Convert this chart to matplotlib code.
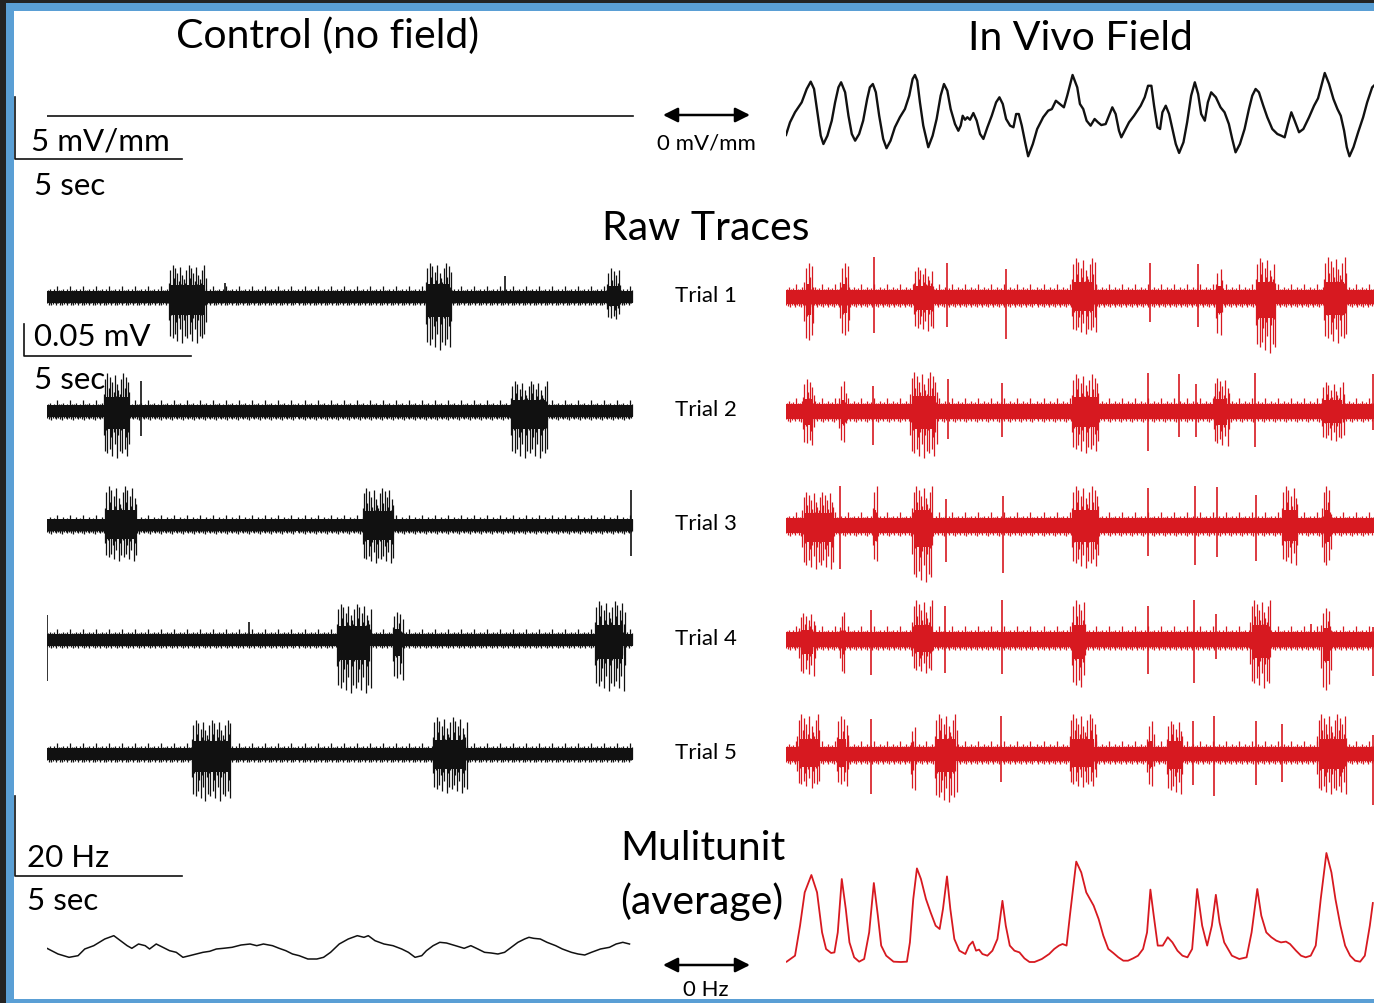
import numpy as np
import matplotlib
matplotlib.use("Agg")
import matplotlib.pyplot as plt

plt.rcParams['font.family'] = ['Lato', 'DejaVu Sans']

W, H = 1374, 1004
BLACK = '#111111'
RED = '#d71920'
BLUE = '#5a9fd5'
DARK = '#232323'

# ---- in vivo field (mV/mm) vs time (s) ----
FIELD_T = [0.00, 0.12, 0.27, 0.47, 0.62, 0.74, 0.84, 0.94, 1.04, 1.12, 1.24, 1.37, 1.47, 1.57,
           1.65, 1.77, 1.87, 1.97, 2.07, 2.19, 2.31, 2.43, 2.51, 2.60, 2.69, 2.79, 2.91, 3.01,
           3.13, 3.26, 3.41, 3.56, 3.69, 3.79, 3.86, 3.93, 4.01, 4.11, 4.26, 4.39, 4.51, 4.63,
           4.73, 4.83, 4.93, 5.06, 5.16, 5.23, 5.29, 5.36, 5.43, 5.51, 5.61, 5.71, 5.81, 5.91,
           6.03, 6.16, 6.29, 6.39, 6.49, 6.59, 6.71, 6.81, 6.89, 6.97, 7.06, 7.16, 7.25, 7.39,
           7.52, 7.70, 7.85, 7.96, 8.08, 8.20, 8.32, 8.42, 8.58, 8.72, 8.80, 8.90, 9.00, 9.12,
           9.24, 9.34, 9.44, 9.57, 9.67, 9.77, 9.87, 9.97, 10.04, 10.14, 10.27, 10.42, 10.62,
           10.74, 10.84, 10.94, 11.02, 11.12, 11.20, 11.27, 11.37, 11.47, 11.57, 11.67, 11.77,
           11.90, 12.01, 12.13, 12.24, 12.34, 12.43, 12.54, 12.63, 12.73, 12.87, 13.01, 13.13,
           13.26, 13.36, 13.46, 13.59, 13.73, 13.86, 13.96, 14.06, 14.16, 14.29, 14.41, 14.56,
           14.71, 14.83, 14.93, 15.03, 15.13, 15.23, 15.36, 15.49, 15.66, 15.81, 15.93, 16.03,
           16.13, 16.26, 16.39, 16.51, 16.61, 16.71, 16.79, 16.87, 16.99, 17.13, 17.28, 17.40,
           17.55, 17.60]
FIELD_V = [-1.53, -0.51, 0.30, 1.10, 2.18, 2.77, 2.18, 0.30, -1.59, -2.26, -1.59, -0.38, 1.10, 2.31,
           2.72, 1.91, 0.02, -1.45, -1.99, -1.45, -0.38, 1.37, 2.31, 2.58, 1.91, 0.02, -1.85, -2.60,
           -1.99, -0.91, -0.10, 0.56, 1.64, 2.98, 3.31, 2.85, 1.10, -0.78, -2.52, -1.59, -0.24, 1.64,
           2.58, 2.04, 0.56, -0.65, -1.19, -0.78, 0.02, -0.30, -0.10, -0.30, 0.24, -0.38, -1.45, -1.85,
           -0.91, 0.02, 1.10, 1.51, 0.97, -0.24, -0.78, -0.91, 0.16, 0.16, -0.78, -2.12, -3.25, -2.26,
           -1.05, -0.10, 0.43, 0.56, 1.23, 0.97, 0.70, 1.64, 3.31, 2.31, 0.97, 0.56, -0.38, -0.78,
           -0.24, -0.51, -0.73, -0.65, 0.02, 0.70, 0.16, -1.19, -1.72, -1.19, -0.51, 0.02, 0.83,
           1.51, 2.44, 2.44, 0.83, -0.91, -1.05, 0.30, 0.83, 0.16, -1.05, -2.26, -2.98,
           -2.12, -0.51, 1.64, 2.72, 1.77, 0.16, -0.38, 1.10, 1.91, 1.51, 0.70, 0.30,
           -0.65, -1.85, -2.93, -2.26, -1.05, 0.56, 1.64, 2.18, 1.91, 0.83, -0.10, -1.05,
           -1.45, -1.59, -1.72, -0.65, 0.30, -0.38, -1.31, -1.05, -0.10, 0.83, 1.43, 2.44,
           3.47, 2.58, 1.37, 0.56, 0.02, -1.19, -2.52, -3.25, -2.52, -1.31, -0.10, 1.10,
           2.31, 2.44]
CONTROL_FIELD_T = [0.0, 17.55]
CONTROL_FIELD_V = [0.0, 0.0]

# ---- raw traces: (start s, end s, peak up mV, peak down mV) per burst/spike ----
CONTROL_EVENTS = [
    [(3.65, 4.75, 0.050, 0.072), (5.33, 5.33, 0.022, 0.008), (11.35, 12.10, 0.053, 0.083),
     (13.70, 13.70, 0.033, 0.010), (16.77, 17.17, 0.045, 0.037)],
    [(1.70, 2.47, 0.060, 0.073), (2.80, 2.80, 0.048, 0.039), (13.90, 14.97, 0.047, 0.073)],
    [(1.74, 2.67, 0.062, 0.055), (9.45, 10.36, 0.059, 0.059), (17.48, 17.48, 0.055, 0.047)],
    [(0.00, 0.00, 0.038, 0.064), (6.04, 6.04, 0.028, 0.010), (8.68, 9.69, 0.056, 0.083),
     (10.36, 10.65, 0.044, 0.066), (16.40, 17.30, 0.061, 0.080)],
    [(4.34, 5.48, 0.053, 0.073), (11.56, 12.56, 0.058, 0.061)],
]
FIELD_EVENTS = [
    [(0.55, 0.81, 0.053, 0.075), (1.62, 1.89, 0.053, 0.066), (2.62, 2.62, 0.062, 0.056),
     (3.82, 4.41, 0.047, 0.053), (4.82, 4.82, 0.053, 0.047), (6.60, 6.60, 0.044, 0.066),
     (8.56, 9.28, 0.061, 0.058), (10.90, 10.90, 0.053, 0.039), (12.33, 12.33, 0.052, 0.047),
     (12.86, 13.06, 0.044, 0.066), (14.06, 14.65, 0.061, 0.087), (16.11, 16.77, 0.062, 0.072)],
    [(0.51, 0.83, 0.050, 0.056), (1.60, 1.80, 0.047, 0.053), (2.59, 2.59, 0.040, 0.052),
     (3.72, 4.51, 0.061, 0.073), (4.84, 4.84, 0.050, 0.044), (6.48, 6.48, 0.044, 0.041),
     (8.56, 9.35, 0.058, 0.066), (10.85, 10.85, 0.060, 0.062), (11.78, 11.78, 0.058, 0.041),
     (12.27, 12.27, 0.043, 0.041), (12.80, 13.26, 0.052, 0.055), (14.05, 14.05, 0.060, 0.056),
     (16.05, 16.70, 0.045, 0.047), (17.56, 17.56, 0.058, 0.030)],
    [(0.49, 1.42, 0.053, 0.068), (1.62, 1.62, 0.062, 0.068), (2.60, 2.73, 0.062, 0.062),
     (3.78, 4.38, 0.062, 0.089), (4.80, 4.80, 0.042, 0.057), (6.50, 6.50, 0.046, 0.075),
     (8.56, 9.35, 0.062, 0.066), (10.85, 10.85, 0.059, 0.048), (12.24, 12.24, 0.062, 0.062),
     (12.89, 12.89, 0.060, 0.050), (14.08, 14.08, 0.048, 0.056), (14.85, 15.31, 0.062, 0.062),
     (16.05, 16.31, 0.062, 0.068)],
    [(0.40, 0.87, 0.042, 0.057), (1.62, 1.75, 0.043, 0.057), (2.55, 2.55, 0.047, 0.055),
     (3.78, 4.38, 0.062, 0.052), (4.75, 4.75, 0.053, 0.052), (6.48, 6.48, 0.062, 0.054),
     (8.56, 8.96, 0.062, 0.078), (10.85, 10.85, 0.053, 0.054), (12.23, 12.23, 0.062, 0.068),
     (12.86, 12.86, 0.040, 0.030), (13.90, 14.50, 0.062, 0.075), (15.72, 15.72, 0.025, 0.010),
     (16.03, 16.31, 0.050, 0.087), (17.56, 17.56, 0.020, 0.057)],
    [(0.34, 1.00, 0.062, 0.053), (1.53, 1.86, 0.060, 0.052), (2.55, 2.55, 0.055, 0.062),
     (3.74, 3.85, 0.042, 0.062), (4.45, 5.11, 0.062, 0.075), (6.44, 6.44, 0.060, 0.044),
     (8.49, 9.28, 0.062, 0.052), (10.81, 11.01, 0.052, 0.055), (11.41, 11.87, 0.052, 0.062),
     (12.20, 12.20, 0.052, 0.048), (12.80, 12.80, 0.060, 0.065), (14.06, 14.06, 0.052, 0.048),
     (14.85, 14.85, 0.047, 0.044), (15.91, 16.77, 0.062, 0.062), (17.56, 17.56, 0.030, 0.080)],
]
TRIAL_LABELS = ['Trial 1', 'Trial 2', 'Trial 3', 'Trial 4', 'Trial 5']
TRIAL_GAP = 0.1785  # mV between stacked trials

# ---- multiunit average rate (Hz) vs time (s) ----
CONTROL_MU_T = [0.00, 0.33, 0.66, 0.93, 1.13, 1.40, 1.73, 2.00, 2.20, 2.40, 2.54, 2.74, 2.94, 3.07,
                3.27, 3.47, 3.67, 3.87, 4.07, 4.27, 4.47, 4.67, 4.87, 5.07, 5.28, 5.54, 5.81, 6.08,
                6.28, 6.48, 6.75, 6.95, 7.15, 7.35, 7.55, 7.81, 8.08, 8.28, 8.49, 8.75, 9.02, 9.29,
                9.49, 9.62, 9.82, 10.09, 10.36, 10.62, 10.82, 11.02, 11.22, 11.36, 11.56, 11.76,
                11.96, 12.23, 12.49, 12.69, 12.90, 13.10, 13.30, 13.50, 13.70, 13.90, 14.10, 14.30,
                14.43, 14.57, 14.77, 14.97, 15.23, 15.43, 15.70, 15.90, 16.10, 16.30, 16.57, 16.84,
                17.04, 17.24, 17.44]
CONTROL_MU_HZ = [3.42, 2.00, 1.17, 1.58, 3.25, 4.08, 5.75, 6.58, 5.33, 4.08, 3.42, 4.50, 4.08, 3.25,
                 4.50, 3.67, 2.83, 2.42, 1.17, 1.58, 2.00, 2.42, 2.67, 3.25, 3.42, 3.67, 4.25, 4.50,
                 4.08, 4.50, 4.08, 3.42, 2.83, 2.00, 1.58, 0.75, 0.75, 1.17, 2.42, 4.50, 5.75, 6.58,
                 6.17, 6.58, 5.33, 4.50, 4.08, 3.25, 2.42, 1.17, 1.58, 2.83, 4.08, 4.92,
                 4.75, 4.08, 3.42, 4.08, 3.25, 2.42, 2.25, 2.00, 2.42, 3.67, 4.92, 5.75,
                 6.17, 5.92, 5.75, 4.92, 4.08, 3.25, 2.42, 2.00, 1.75, 2.42, 3.25, 3.67,
                 4.50, 4.92, 4.50]
FIELD_MU_T = [0.02, 0.27, 0.42, 0.56, 0.76, 0.93, 1.08, 1.20, 1.35, 1.45, 1.55, 1.67, 1.79, 1.90,
              2.04, 2.19, 2.34, 2.49, 2.63, 2.75, 2.85, 3.00, 3.22, 3.44, 3.62, 3.71, 3.81, 3.92,
              4.04, 4.19, 4.33, 4.48, 4.60, 4.70, 4.82, 4.92, 5.04, 5.19, 5.37, 5.48, 5.59, 5.69,
              5.78, 5.88, 6.03, 6.18, 6.33, 6.48, 6.58, 6.70, 6.84, 6.99, 7.14, 7.29, 7.44, 7.66,
              7.88, 8.03, 8.17, 8.28, 8.40, 8.50, 8.69, 8.84, 8.99, 9.21, 9.36, 9.50, 9.65, 9.80,
              9.95, 10.10, 10.24, 10.39, 10.54, 10.69, 10.81, 10.91, 11.01, 11.13, 11.28, 11.43,
              11.57, 11.72, 11.87, 12.02, 12.16, 12.31, 12.46, 12.61, 12.75, 12.87, 12.98, 13.12,
              13.35, 13.57, 13.79, 13.94, 14.11, 14.23, 14.38, 14.53, 14.68, 14.82, 14.97, 15.09,
              15.27, 15.42, 15.56, 15.71, 15.86, 16.01, 16.18, 16.33, 16.45, 16.60, 16.74, 16.89,
              17.04, 17.19, 17.33, 17.48, 17.57]
FIELD_MU_HZ = [0.08, 1.58, 9.08, 17.40, 21.75, 17.40, 7.40, 3.25, 2.25, 2.40, 7.40, 20.75, 13.25, 4.90,
               1.17, 0.08, 0.75, 7.40, 19.75, 11.60, 4.10, 1.58, 0.08, 0.00, 0.08, 4.90, 15.75, 23.40,
               20.75, 15.75, 12.40, 9.08, 8.25, 13.25, 21.40, 13.25, 5.75, 2.83, 2.00, 4.10, 5.10, 2.83,
               3.10, 2.00, 1.58, 2.83, 5.75, 15.30, 9.08, 4.10, 2.83, 2.40, 0.90, 0.00, 0.00, 0.75,
               2.00, 3.25, 4.10, 4.50, 4.10, 11.60, 25.10, 22.40, 17.40, 14.10, 10.75, 6.60, 3.25, 2.25,
               1.17, 0.33, 0.33, 0.90, 1.58, 3.25, 7.40, 18.10, 11.60, 4.10, 4.10, 6.20,
               4.90, 2.83, 1.58, 1.17, 3.25, 18.25, 9.08, 4.10, 9.08, 16.80, 9.90, 4.90,
               1.58, 0.75, 1.17, 7.40, 18.25, 11.60, 7.40, 6.20, 5.33, 4.90, 5.10, 4.50,
               2.83, 1.58, 1.17, 1.58, 4.10, 15.75, 27.25, 22.40, 15.75, 9.08, 4.10, 1.58,
               0.33, 0.08, 1.58, 9.08, 14.75]

# trace texture: relative deflections cycled along bursts and the baseline
UP_SHAPE = [0.45, 0.85, 0.35, 1.0, 0.6, 0.9, 0.3, 0.75, 0.5, 0.95, 0.4, 0.7, 0.55]
DN_SHAPE = [0.7, 0.3, 1.0, 0.5, 0.85, 0.4, 0.9, 0.35, 0.8, 0.55, 0.95, 0.45]
NOISE_UP = [0.7, 0.85, 0.6, 1.0, 0.75, 0.8, 0.65, 0.95, 0.7, 0.6, 1.35, 0.75, 0.85]
NOISE_DN = [0.8, 0.65, 0.95, 0.7, 1.05, 0.65, 0.85, 0.6, 0.8, 1.0, 0.7]

PX_PER_SEC = 33.4


def px_axes(x0, y0, x1, y1, xlim, ylim):
    # axes placed by pixel box (origin top-left)
    ax = fig.add_axes([x0 / W, 1 - y1 / H, (x1 - x0) / W, (y1 - y0) / H])
    ax.set_xlim(*xlim)
    ax.set_ylim(*ylim)
    ax.axis('off')
    ax.patch.set_alpha(0)
    return ax


def cycled(pattern, n, shift=0):
    return np.array([pattern[(i + shift) % len(pattern)] for i in range(n)])


def draw_raw(ax, events, base, t_end, half, color):
    # solid core of the baseline plus a ragged fringe
    ax.fill_between([0, t_end], base - 0.75 * half, base + 0.75 * half, color=color, lw=0)
    ts = np.arange(0, t_end, 0.03)
    ax.vlines(ts, base - half * cycled(NOISE_DN, len(ts)), base + half * cycled(NOISE_UP, len(ts)),
              color=color, lw=0.9)
    for t0, t1, up, dn in events:
        if t1 <= t0:
            ax.vlines(t0, base - dn, base + up, color=color, lw=1.2)
            continue
        n = max(4, int((t1 - t0) / 0.035))
        ts = np.linspace(t0, t1, n)
        ax.vlines(ts, base - dn * cycled(DN_SHAPE, n, 3), base + up * cycled(UP_SHAPE, n),
                  color=color, lw=0.9)
        ax.fill_between([t0 + 0.05, t1 - 0.05], base - 0.38 * dn, base + 0.38 * up,
                        color=color, lw=0)


fig = plt.figure(figsize=(W / 100, H / 100), dpi=100)

# frame and text layer, in pixels
ov = fig.add_axes([0, 0, 1, 1])
ov.set_xlim(0, W)
ov.set_ylim(H, 0)
ov.axis('off')
ov.add_patch(plt.Rectangle((0, 0), W, H, color=DARK, lw=0))
ov.add_patch(plt.Rectangle((6, 4), W, H, color=BLUE, lw=0))
ov.add_patch(plt.Rectangle((14, 12), W, 988, color='white', lw=0))

big = 29.5
mid = 22.5
small = 16

ov.text(328, 36, 'Control (no field)', fontsize=big, ha='center', va='center')
ov.text(1080, 39, 'In Vivo Field', fontsize=big, ha='center', va='center')
ov.text(706, 228, 'Raw Traces', fontsize=big, ha='center', va='center')
ov.text(620, 849, 'Mulitunit', fontsize=big, ha='left', va='center')
ov.text(620, 902, '(average)', fontsize=big, ha='left', va='center')

ov.text(31, 150, '5 mV/mm', fontsize=mid, ha='left', va='baseline')
ov.text(34, 195, '5 sec', fontsize=mid, ha='left', va='baseline')
ov.text(34, 346, '0.05 mV', fontsize=mid, ha='left', va='baseline')
ov.text(34, 389, '5 sec', fontsize=mid, ha='left', va='baseline')
ov.text(27, 867, '20 Hz', fontsize=mid, ha='left', va='baseline')
ov.text(27, 910, '5 sec', fontsize=mid, ha='left', va='baseline')

ov.text(706, 150, '0 mV/mm', fontsize=small, ha='center', va='baseline')
ov.text(706, 996, '0 Hz', fontsize=small, ha='center', va='baseline')
for y in (116, 966):
    ov.annotate('', xy=(663, y), xytext=(750, y),
                arrowprops=dict(arrowstyle='<|-|>', color='black', lw=1.8,
                                mutation_scale=22, shrinkA=0, shrinkB=0))

trial_rows = [298 + i * TRIAL_GAP * 640 for i in range(5)]
for label, y in zip(TRIAL_LABELS, trial_rows):
    ov.text(706, y - 2, label, fontsize=small, ha='center', va='center')

# ---- field row ----
fx_l = 47
fx_r = 786
f_lim = (-4.5, 4.5)
f_top, f_bot = 117 - 4.5 * 12.4, 117 + 4.5 * 12.4
axf_l = px_axes(fx_l, f_top, fx_l + 17.6 * PX_PER_SEC, f_bot, (0, 17.6), f_lim)
axf_r = px_axes(fx_r, f_top, fx_r + 17.6 * PX_PER_SEC, f_bot, (0, 17.6), f_lim)
axf_l.plot(CONTROL_FIELD_T, CONTROL_FIELD_V, color=BLACK, lw=1.2)
axf_r.plot(FIELD_T, FIELD_V, color=BLACK, lw=1.7, solid_joinstyle='round')
# 5 s / 5 mV/mm scale bar
axf_l.plot([-0.96, -0.96, 4.04], [1.53, -3.47, -3.47], color=BLACK, lw=1.2, clip_on=False)

# ---- raw traces ----
r_top, r_bot = 298 - 0.14 * 640, 298 + 0.86 * 640
axr_l = px_axes(fx_l, r_top, fx_l + 17.6 * PX_PER_SEC, r_bot, (0, 17.6), (-0.86, 0.14))
axr_r = px_axes(fx_r, r_top, fx_r + 17.6 * PX_PER_SEC, r_bot, (0, 17.6), (-0.86, 0.14))
for i in range(5):
    draw_raw(axr_l, CONTROL_EVENTS[i], -i * TRIAL_GAP, 17.55, 0.0125, BLACK)
    draw_raw(axr_r, FIELD_EVENTS[i], -i * TRIAL_GAP, 17.6, 0.0155, RED)
# 5 s / 0.05 mV scale bar
axr_l.plot([-0.69, -0.69, 4.31], [-0.042, -0.092, -0.092], color=BLACK, lw=1.2, clip_on=False)

# ---- multiunit average ----
m_top, m_bot = 963 - 35 * 4, 963 + 2 * 4
axm_l = px_axes(fx_l, m_top, fx_l + 17.6 * PX_PER_SEC, m_bot, (0, 17.6), (-2, 35))
axm_r = px_axes(fx_r, m_top, fx_r + 17.6 * PX_PER_SEC, m_bot, (0, 17.6), (-2, 35))
axm_l.plot(CONTROL_MU_T, CONTROL_MU_HZ, color=BLACK, lw=1.1)
axm_r.plot(FIELD_MU_T, FIELD_MU_HZ, color=RED, lw=1.3)
# 5 s / 20 Hz scale bar
axm_l.plot([-0.96, -0.96, 4.04], [41.5, 21.5, 21.5], color=BLACK, lw=1.2, clip_on=False)

fig.savefig('out.png', dpi=100)
